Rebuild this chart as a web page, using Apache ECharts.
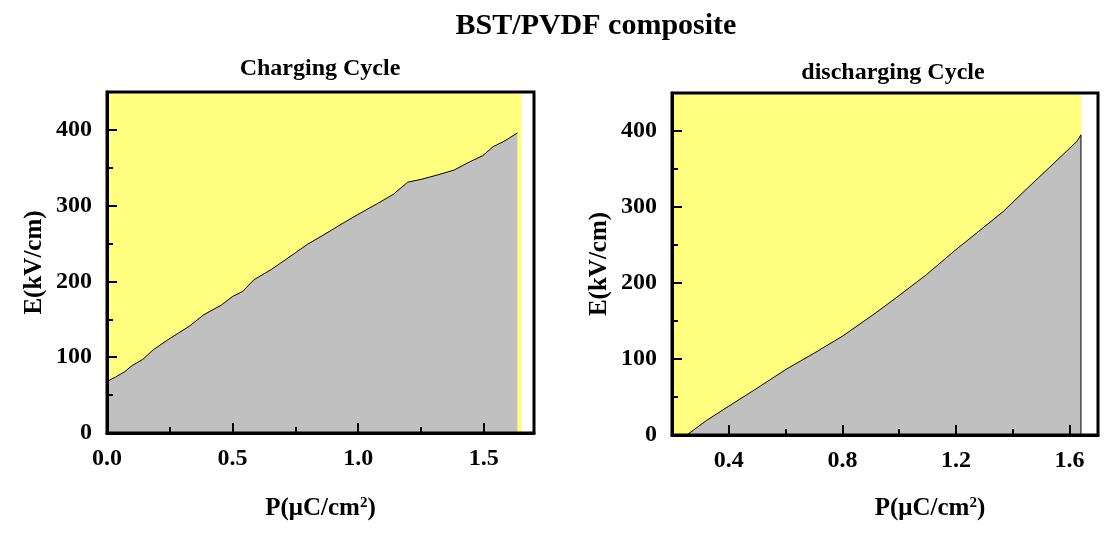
<!DOCTYPE html>
<html>
<head>
<meta charset="utf-8">
<title>BST/PVDF composite</title>
<script src="https://cdn.jsdelivr.net/npm/echarts@6/dist/echarts.min.js"></script>
<style>
  html, body { margin: 0; padding: 0; background: #fff; }
  #chart { width: 1108px; height: 538px; }
</style>
</head>
<body>
<div id="chart"></div>
<script>
// charging cycle, P (uC/cm2) -> E (kV/cm)
var chargeP = [0, 0.035, 0.071, 0.10, 0.142, 0.185, 0.242, 0.285, 0.328, 0.385, 0.456, 0.499, 0.541, 0.584,
  0.655, 0.712, 0.798, 0.855, 0.94, 0.997, 1.083, 1.14, 1.197, 1.254, 1.31, 1.382, 1.439, 1.496, 1.538, 1.581, 1.634];
var chargeE = [68, 74, 81, 89, 97, 110, 123, 132, 141, 156, 169, 180, 187, 202,
  216, 229, 249, 260, 277, 288, 304, 315, 331, 335, 340, 347, 357, 366, 378, 385, 396];

// discharging cycle
var dischargeP = [0.2, 0.252, 0.321, 0.4, 0.493, 0.604, 0.702, 0.8, 0.911, 0.998, 1.096, 1.2,
  1.28, 1.366, 1.452, 1.526, 1.588, 1.625, 1.640, 1.640];
var dischargeE = [0, 0, 19, 38, 60, 87, 108, 130, 159, 183, 211, 244,
  268, 294, 325, 351, 373, 386, 395, 0];

// yellow background block (full height)
var chargeFieldP = [0, 1.649];
var dischargeFieldP = [0.2, 1.640];
var fieldE = [450, 450];

// ticks
var chargeTicks = [0, 0.5, 1.0, 1.5];
var chargeMinor = [0.25, 0.75, 1.25];
var dischargeTicks = [0.4, 0.8, 1.2, 1.6];
var dischargeMinor = [0.6, 1.0, 1.4];
var eTicks = [0, 100, 200, 300, 400];
var eMinor = [50, 150, 250, 350];

var FONT = 'Liberation Serif';
var YELLOW = '#ffff80';
var GRAY = '#c0c0c0';
var P_NAME = 'P(μC/cm{sup|2})';

function pairs(xs, ys) {
  var out = [];
  for (var i = 0; i < xs.length; i++) out.push([xs[i], ys[i]]);
  return out;
}

function txt(size) {
  return { fontFamily: FONT, fontWeight: 'bold', fontSize: size, color: '#000' };
}

// main axis: line, long ticks, labels
function mainX(grid, min, max, ticks, nameGap, namePad) {
  return {
    type: 'value', gridIndex: grid, position: 'bottom', min: min, max: max, z: 4,
    name: P_NAME, nameLocation: 'middle', nameGap: nameGap,
    nameTextStyle: Object.assign(txt(25), {
      padding: namePad,
      rich: { sup: { fontFamily: FONT, fontWeight: 'bold', fontSize: 15, color: '#000', verticalAlign: 'top' } }
    }),
    axisLine: { show: true, onZero: false, lineStyle: { color: '#000', width: 3 } },
    axisTick: { show: true, inside: true, length: 10, customValues: ticks, lineStyle: { color: '#000', width: 2 } },
    axisLabel: Object.assign(txt(24), {
      margin: 14, customValues: ticks,
      formatter: function (v) { return v.toFixed(1); }
    }),
    splitLine: { show: false }
  };
}
// extra axis only for the short ticks
function minorX(grid, min, max, ticks) {
  return {
    type: 'value', gridIndex: grid, position: 'bottom', min: min, max: max, z: 4,
    axisLine: { show: false },
    axisTick: { show: true, inside: true, length: 6, customValues: ticks, lineStyle: { color: '#000', width: 2 } },
    axisLabel: { show: false },
    splitLine: { show: false }
  };
}
function mainY(grid) {
  return {
    type: 'value', gridIndex: grid, position: 'left', min: 0, max: 450, z: 4,
    name: 'E(kV/cm)', nameLocation: 'middle', nameGap: 60,
    nameTextStyle: txt(25),
    axisLine: { show: true, onZero: false, lineStyle: { color: '#000', width: 3 } },
    axisTick: { show: true, inside: true, length: 10, customValues: eTicks, lineStyle: { color: '#000', width: 2 } },
    axisLabel: Object.assign(txt(24), { margin: 15, customValues: eTicks }),
    splitLine: { show: false }
  };
}
function minorY(grid) {
  return {
    type: 'value', gridIndex: grid, position: 'left', min: 0, max: 450, z: 4,
    axisLine: { show: false },
    axisTick: { show: true, inside: true, length: 6, customValues: eMinor, lineStyle: { color: '#000', width: 2 } },
    axisLabel: { show: false },
    splitLine: { show: false }
  };
}

function field(idx, xs) {
  return {
    type: 'line', xAxisIndex: idx, yAxisIndex: idx, data: pairs(xs, fieldE),
    showSymbol: false, symbol: 'none', silent: true, z: 1,
    lineStyle: { width: 0 }, areaStyle: { color: YELLOW, opacity: 1 }
  };
}
function curve(idx, xs, ys) {
  return {
    type: 'line', xAxisIndex: idx, yAxisIndex: idx, data: pairs(xs, ys),
    showSymbol: false, symbol: 'none', silent: true, z: 2,
    lineStyle: { color: '#000', width: 1 }, areaStyle: { color: GRAY, opacity: 1 }
  };
}

var chart = echarts.init(document.getElementById('chart'), null, { renderer: 'canvas' });
chart.setOption({
  animation: false,
  backgroundColor: '#fff',
  title: [
    { text: 'BST/PVDF composite', left: 596, top: 11, textAlign: 'center', padding: 0, textStyle: txt(30) },
    { text: 'Charging Cycle', left: 320, top: 57, textAlign: 'center', padding: 0, textStyle: txt(24) },
    { text: 'discharging Cycle', left: 893, top: 61, textAlign: 'center', padding: 0, textStyle: txt(24) }
  ],
  grid: [
    { left: 107, top: 92, width: 427, height: 341, show: true, z: 5, borderColor: '#000', borderWidth: 3,
      backgroundColor: 'transparent', containLabel: false, outerBoundsMode: 'none' },
    { left: 672, top: 93, width: 426, height: 342, show: true, z: 5, borderColor: '#000', borderWidth: 3,
      backgroundColor: 'transparent', containLabel: false, outerBoundsMode: 'none' }
  ],
  xAxis: [
    mainX(0, 0, 1.7, chargeTicks, 63, [0, 0, 0, 0]),
    mainX(1, 0.2, 1.7, dischargeTicks, 61, [0, 0, 0, 90]),
    minorX(0, 0, 1.7, chargeMinor),
    minorX(1, 0.2, 1.7, dischargeMinor)
  ],
  yAxis: [mainY(0), mainY(1), minorY(0), minorY(1)],
  series: [
    field(0, chargeFieldP),
    curve(0, chargeP, chargeE),
    field(1, dischargeFieldP),
    curve(1, dischargeP, dischargeE)
  ]
});
</script>
</body>
</html>
